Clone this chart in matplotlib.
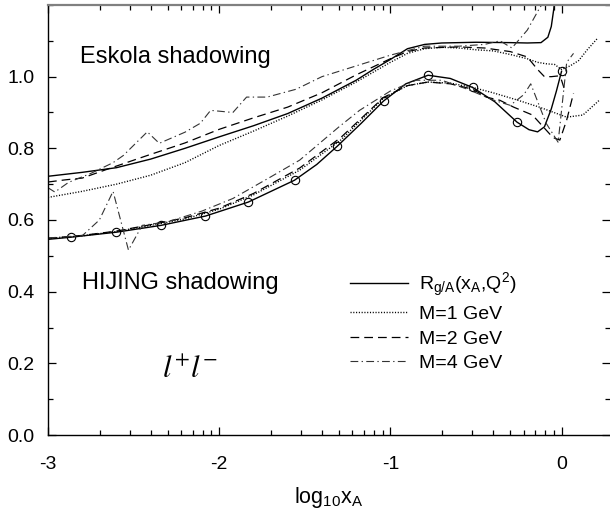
import numpy as np
import matplotlib
matplotlib.use("Agg")
import matplotlib.pyplot as plt
from matplotlib.ticker import FixedLocator, MultipleLocator

plt.rcParams['font.family'] = ['Liberation Sans', 'DejaVu Sans']
plt.rcParams['mathtext.fontset'] = 'custom'
plt.rcParams['mathtext.rm'] = 'Liberation Sans'
plt.rcParams['mathtext.it'] = 'Liberation Sans:italic'
plt.rcParams['mathtext.bf'] = 'Liberation Sans:bold'

# ---------------- data (log10 x_A, ratio) ----------------
# Eskola shadowing
esk_R_x = [-3.0, -2.8, -2.6, -2.4, -2.2, -2.0, -1.8, -1.6, -1.4, -1.2, -1.1, -1.0, -0.9, -0.8,
           -0.7, -0.5, -0.3, -0.2, -0.12, -0.08, -0.06, -0.045, -0.04]
esk_R_y = [0.722, 0.733, 0.746, 0.77, 0.80, 0.832, 0.863, 0.897, 0.94, 0.99, 1.02, 1.048, 1.078, 1.09,
           1.094, 1.096, 1.095, 1.094, 1.095, 1.11, 1.14, 1.19, 1.22]

esk_M1_x = [-3.0, -2.8, -2.6, -2.4, -2.2, -2.0, -1.8, -1.6, -1.4, -1.2, -1.0, -0.9, -0.8, -0.7,
            -0.6, -0.5, -0.4, -0.3, -0.2, -0.14, -0.09, -0.04, 0.0, 0.05, 0.1, 0.15, 0.21]
esk_M1_y = [0.663, 0.68, 0.70, 0.725, 0.76, 0.808, 0.848, 0.89, 0.935, 0.985, 1.04, 1.065, 1.078, 1.082,
            1.08, 1.075, 1.072, 1.062, 1.05, 1.04, 1.036, 1.034, 1.02, 1.03, 1.045, 1.075, 1.107]

esk_M2_x = [-3.0, -2.9, -2.8, -2.64, -2.42, -2.2, -2.0, -1.8, -1.6, -1.4, -1.2, -1.0, -0.9, -0.8,
            -0.6, -0.45, -0.3, -0.2, -0.14, -0.1, -0.06, -0.02, 0.0, 0.02]
esk_M2_y = [0.706, 0.712, 0.717, 0.744, 0.78, 0.815, 0.853, 0.885, 0.915, 0.955, 1.005, 1.05, 1.07, 1.08,
            1.083, 1.08, 1.07, 1.055, 1.02, 1.0, 1.0, 1.002, 0.99, 0.96]

esk_M4_x = [-3.0, -2.96, -2.88, -2.75, -2.62, -2.56, -2.42, -2.35, -2.2, -2.11, -2.05, -1.92, -1.84,
            -1.72, -1.55, -1.4, -1.2, -1.0, -0.8, -0.6, -0.45, -0.36, -0.29, -0.2, -0.13, -0.09]
esk_M4_y = [0.69, 0.678, 0.705, 0.73, 0.76, 0.78, 0.846, 0.814, 0.845, 0.87, 0.906, 0.9, 0.943,
            0.943, 0.965, 1.0, 1.03, 1.06, 1.085, 1.085, 1.09, 1.1, 1.08, 1.13, 1.19, 1.22]

# HIJING shadowing
hij_R_x = [-3.0, -2.866, -2.60, -2.34, -2.08, -1.83, -1.56, -1.43, -1.31, -1.17, -1.04, -0.91, -0.78,
           -0.65, -0.52, -0.39, -0.26, -0.19, -0.14, -0.10, -0.06, -0.03, 0.0]
hij_R_y = [0.546, 0.552, 0.566, 0.585, 0.611, 0.65, 0.711, 0.755, 0.806, 0.87, 0.932, 0.98, 1.004,
           0.995, 0.97, 0.93, 0.873, 0.852, 0.846, 0.86, 0.91, 0.96, 1.015]
hij_R_marked_x = [-2.866, -2.60, -2.34, -2.08, -1.83, -1.56, -1.31, -1.04, -0.78, -0.52, -0.26, 0.0]

hij_M1_x = [-3.0, -2.8, -2.6, -2.4, -2.2, -2.0, -1.8, -1.53, -1.29, -1.04, -0.9, -0.78, -0.65, -0.52,
            -0.4, -0.26, -0.13, 0.03, 0.125, 0.22]
hij_M1_y = [0.548, 0.556, 0.568, 0.585, 0.603, 0.63, 0.67, 0.739, 0.823, 0.94, 0.975, 0.985, 0.982, 0.97,
            0.955, 0.935, 0.915, 0.887, 0.893, 0.934]

hij_M2_x = [-3.0, -2.8, -2.6, -2.4, -2.2, -2.0, -1.8, -1.53, -1.29, -1.04, -0.9, -0.78, -0.65, -0.52,
            -0.44, -0.36, -0.28, -0.17, -0.05, -0.01, 0.03, 0.07]
hij_M2_y = [0.549, 0.557, 0.569, 0.587, 0.606, 0.633, 0.674, 0.745, 0.83, 0.942, 0.975, 0.985, 0.98, 0.965,
            0.943, 0.934, 0.915, 0.893, 0.83, 0.823, 0.879, 0.954]

hij_M4_x = [-3.0, -2.8, -2.7, -2.62, -2.53, -2.45, -2.3, -2.1, -1.92, -1.7, -1.53, -1.3, -1.18, -1.0,
            -0.85, -0.7, -0.55, -0.4, -0.3, -0.22, -0.18, -0.09, -0.02, 0.03, 0.07]
hij_M4_y = [0.55, 0.556, 0.60, 0.68, 0.516, 0.585, 0.595, 0.625, 0.66, 0.72, 0.767, 0.86, 0.906, 0.96,
            0.99, 0.99, 0.965, 0.935, 0.92, 0.95, 0.98, 0.87, 0.817, 1.04, 1.065]

legend_labels = [r'R$_{\mathrm{g/A}}$(x$_{\mathrm{A}}$,Q$^{2}$)', 'M=1 GeV', 'M=2 GeV', 'M=4 GeV']
x_major = [-3, -2, -1, 0]
x_ticklabels = ['-3', '-2', '-1', '0']
y_major = [0.0, 0.2, 0.4, 0.6, 0.8, 1.0]
y_ticklabels = ['0.0', '0.2', '0.4', '0.6', '0.8', '1.0']

# ---------------- styles ----------------
st_R = dict(color='black', lw=1.0, ls='-')
st_M1 = dict(color='black', lw=1.0, ls=(0, (0.8, 1.2)))
st_M2 = dict(color='black', lw=0.9, ls=(0, (7, 4)))
st_M4 = dict(color='#333333', lw=0.8, ls=(0, (7, 3, 1.2, 3)))

fig = plt.figure(figsize=(6.10, 5.15), dpi=100)
ax = fig.add_axes([48 / 610, 80 / 515, 562 / 610, 430 / 515])

hR, = ax.plot(esk_R_x, esk_R_y, **st_R)
h1, = ax.plot(esk_M1_x, esk_M1_y, **st_M1)
h2, = ax.plot(esk_M2_x, esk_M2_y, **st_M2)
h4, = ax.plot(esk_M4_x, esk_M4_y, **st_M4)

mark_idx = list(np.nonzero(np.isin(hij_R_x, hij_R_marked_x))[0])
ax.plot(hij_R_x, hij_R_y, marker='o', ms=6, mfc='none', mec='black', mew=0.8,
        markevery=mark_idx, **st_R)
ax.plot(hij_M1_x, hij_M1_y, **st_M1)
ax.plot(hij_M2_x, hij_M2_y, **st_M2)
ax.plot(hij_M4_x, hij_M4_y, **st_M4)

ax.set_xlim(-3, 0.283)
ax.set_ylim(0, 1.2)

minor_x = [d + np.log10(k) for d in (-3, -2, -1, 0) for k in range(2, 10)]
minor_x = [v for v in minor_x if v < 0.283]
ax.xaxis.set_major_locator(FixedLocator(x_major))
ax.xaxis.set_minor_locator(FixedLocator(minor_x))
ax.set_xticklabels(x_ticklabels)
ax.yaxis.set_major_locator(FixedLocator(y_major))
ax.yaxis.set_minor_locator(MultipleLocator(0.1))
ax.set_yticklabels(y_ticklabels)

ax.tick_params(which='both', direction='in', top=True, right=True, labelsize=14, width=0.9)
ax.tick_params(which='major', length=6)
ax.tick_params(which='minor', length=3.5)
ax.tick_params(axis='x', which='major', pad=15)
ax.tick_params(axis='y', which='major', pad=9.5)

ax.spines['right'].set_visible(False)
ax.spines['top'].set_color('0.5')
ax.spines['top'].set_linewidth(1.6)
ax.spines['left'].set_linewidth(1.0)
ax.spines['bottom'].set_linewidth(1.0)

ax.set_xlabel(r'log$_{10}$x$_{\mathrm{A}}$', fontsize=15.5, labelpad=9)

ax.text(-2.813, 1.055, 'Eskola shadowing', fontsize=17, ha='left', va='center')
ax.text(-2.80, 0.423, 'HIJING shadowing', fontsize=17, ha='left', va='center')
ax.text(-2.17, 0.18, r'$l^{+}l^{-}$', fontsize=22, ha='center', va='center', math_fontfamily='stix')

leg = ax.legend([hR, h1, h2, h4], legend_labels, loc='upper left', bbox_to_anchor=(0.537, 0.382),
                frameon=False, fontsize=14, handlelength=3.0, handletextpad=0.55,
                labelspacing=0.35, borderpad=0, borderaxespad=0)

fig.savefig('out.png', dpi=100)
